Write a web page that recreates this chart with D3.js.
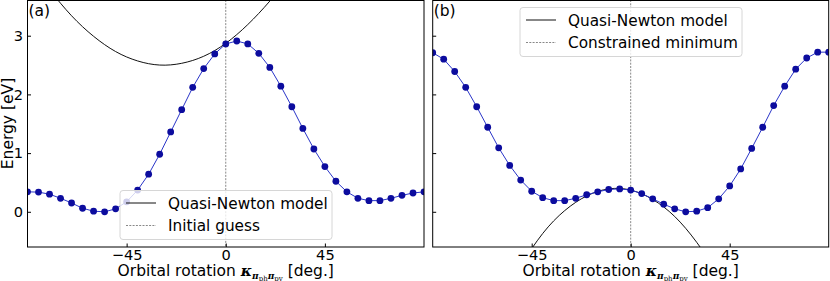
<!DOCTYPE html>
<html lang="en">
<head>
    <meta charset="UTF-8">
    <title>Orbital rotation energy</title>
    <style>
        body { margin: 0; background: #fff; }
        text { font-family: "DejaVu Sans", sans-serif; }
    </style>
</head>
<body>
<script type='text/javascript' src='https://d3js.org/d3.v7.min.js'></script>
<script>
    // angles of the scan, every 5 degrees
    var angles = [-90, -85, -80, -75, -70, -65, -60, -55, -50, -45, -40, -35, -30, -25, -20, -15, -10, -5,
                  0, 5, 10, 15, 20, 25, 30, 35, 40, 45, 50, 55, 60, 65, 70, 75, 80, 85, 90];
    // panel (a) energies
    var energyA = [0.34, 0.335, 0.30, 0.23, 0.15, 0.06, 0.01, 0.0, 0.05, 0.17, 0.37, 0.64, 0.98, 1.36, 1.74, 2.12, 2.44, 2.69,
                   2.86, 2.91, 2.86, 2.70, 2.46, 2.14, 1.79, 1.42, 1.07, 0.77, 0.52, 0.34, 0.23, 0.19, 0.19, 0.23, 0.28, 0.32, 0.34];
    // panel (b) energies
    var energyB = [2.71, 2.60, 2.39, 2.12, 1.79, 1.44, 1.09, 0.79, 0.54, 0.35, 0.24, 0.19, 0.19, 0.23, 0.29, 0.34, 0.38, 0.39,
                   0.37, 0.31, 0.22, 0.13, 0.05, 0.0, 0.01, 0.07, 0.22, 0.44, 0.73, 1.08, 1.44, 1.81, 2.14, 2.43, 2.62, 2.72, 2.72];
    // quasi-Newton model curves
    var modelAngleA = [-80, -70, -60, -50, -40, -30, -20, -10, 0, 10, 20, 30];
    var modelA = [3.78, 3.34, 2.99, 2.73, 2.57, 2.50, 2.53, 2.65, 2.87, 3.19, 3.59, 4.05];
    var modelAngleB = [-50, -40, -30, -20, -10, 0, 10, 20, 30, 40];
    var modelB = [-0.91, -0.37, 0.02, 0.27, 0.39, 0.37, 0.21, -0.08, -0.52, -1.07];
    var xTicks = [-45, 0, 45];
    var yTicks = [0, 1, 2, 3];

    const width = 830;
    const height = 281;
    const tickFont = 14.6;
    const labelFont = 15.5;
    const legendFont = 15.3;

    const svg = d3.select("body")
        .append("svg")
        .attr("width", width)
        .attr("height", height);

    var y = d3.scaleLinear().domain([-0.6, 3.6]).range([247, 0.5]);

    function zip(xs, ys) {
        return xs.map(function(d, i) { return [d, ys[i]]; });
    }

    function drawPanel(opt) {
        var x = d3.scaleLinear().domain([-90, 90]).range([opt.x0, opt.x1]);

        // clip to the axes box
        svg.append("clipPath")
            .attr("id", opt.id)
            .append("rect")
            .attr("x", opt.x0).attr("y", 0.5)
            .attr("width", opt.x1 - opt.x0).attr("height", 247 - 0.5);

        var g = svg.append("g").attr("clip-path", "url(#" + opt.id + ")");

        // vertical reference line at zero
        g.append("line")
            .attr("x1", x(0)).attr("x2", x(0))
            .attr("y1", 0).attr("y2", 247)
            .attr("stroke", "#888")
            .attr("stroke-width", 1)
            .attr("stroke-dasharray", "2,1.3");

        // model curve
        var curve = d3.line()
            .x(function(d) { return x(d[0]); })
            .y(function(d) { return y(d[1]); })
            .curve(d3.curveNatural);
        g.append("path")
            .attr("d", curve(zip(opt.modelX, opt.model)))
            .attr("fill", "none")
            .attr("stroke", "#111")
            .attr("stroke-width", 1);

        // data line + markers
        var pts = zip(angles, opt.energy);
        g.append("path")
            .attr("d", d3.line().x(function(d) { return x(d[0]); }).y(function(d) { return y(d[1]); })(pts))
            .attr("fill", "none")
            .attr("stroke", "#2a35c8")
            .attr("stroke-width", 1);
        g.selectAll("circle")
            .data(pts)
            .enter()
            .append("circle")
            .attr("cx", function(d) { return x(d[0]); })
            .attr("cy", function(d) { return y(d[1]); })
            .attr("r", 3.4)
            .attr("fill", "#0c0c9e");

        // axes: ticks pointing inward
        var xAxis = d3.axisBottom(x).tickValues(xTicks).tickSizeInner(-3.5).tickSizeOuter(0)
            .tickPadding(3)
            .tickFormat(function(d) { return d < 0 ? "\u2212" + Math.abs(d) : d; });
        var ax = svg.append("g").attr("transform", "translate(0,247)").call(xAxis);
        ax.select(".domain").remove();
        ax.selectAll("text").attr("font-size", tickFont).attr("font-family", "DejaVu Sans").attr("fill", "#000");

        var yAxis = d3.axisLeft(y).tickValues(yTicks).tickSizeInner(-3.5).tickSizeOuter(0)
            .tickPadding(opt.labels ? 4.5 : 0)
            .tickFormat(opt.labels ? d3.format("d") : "");
        var ay = svg.append("g").attr("transform", "translate(" + opt.x0 + ",0)").call(yAxis);
        ay.select(".domain").remove();
        ay.selectAll("text").attr("font-size", tickFont).attr("font-family", "DejaVu Sans").attr("fill", "#000");

        // frame
        svg.append("rect")
            .attr("x", opt.x0).attr("y", 0.5)
            .attr("width", opt.x1 - opt.x0).attr("height", 247 - 0.5)
            .attr("fill", "none")
            .attr("stroke", "#000")
            .attr("stroke-width", 1);

        // panel label
        svg.append("text")
            .attr("x", opt.x0 + 1).attr("y", 16)
            .attr("font-size", 15.5)
            .text(opt.tag);

        // x label with math subscript
        var xl = svg.append("text")
            .attr("x", x(0)).attr("y", 276)
            .attr("text-anchor", "middle")
            .attr("font-size", labelFont);
        xl.append("tspan").text("Orbital rotation ");
        xl.append("tspan").text("\u03ba").attr("font-style", "italic").attr("font-weight", "bold")
            .attr("font-family", "DejaVu Serif").attr("font-size", 15);
        xl.append("tspan").text("\u03c0").attr("font-style", "italic").attr("font-weight", "bold")
            .attr("font-family", "DejaVu Serif").attr("font-size", 9).attr("dy", 3);
        xl.append("tspan").text("ph").attr("font-family", "DejaVu Serif").attr("font-size", 7).attr("dy", 1.5);
        xl.append("tspan").text("\u03c0").attr("font-style", "italic").attr("font-weight", "bold")
            .attr("font-family", "DejaVu Serif").attr("font-size", 9).attr("dy", -1.5);
        xl.append("tspan").text("py").attr("font-family", "DejaVu Serif").attr("font-size", 7).attr("dy", 1.5);
        xl.append("tspan").text(" [deg.]").attr("dy", -4.5);

        // legend
        var lg = svg.append("g").attr("transform", "translate(" + opt.legend[0] + "," + opt.legend[1] + ")");
        lg.append("rect")
            .attr("width", opt.legend[2]).attr("height", 49)
            .attr("rx", 3)
            .attr("fill", "#fff").attr("fill-opacity", 0.8)
            .attr("stroke", "#d6d6d6").attr("stroke-width", 1);
        var entries = [
            {label: "Quasi-Newton model", dash: null, color: "#111"},
            {label: opt.dashLabel, dash: "2,1.3", color: "#888"}
        ];
        entries.forEach(function(e, i) {
            var cy = 12.5 + i * 22.5;
            lg.append("line")
                .attr("x1", 6).attr("x2", 36)
                .attr("y1", cy).attr("y2", cy)
                .attr("stroke", e.color)
                .attr("stroke-width", 1)
                .attr("stroke-dasharray", e.dash);
            lg.append("text")
                .attr("x", 48).attr("y", cy + 5.5)
                .attr("font-size", legendFont)
                .text(e.label);
        });
    }

    drawPanel({id: "clipA", x0: 27.5, x1: 424, energy: energyA, modelX: modelAngleA, model: modelA,
               labels: true, tag: "(a)", dashLabel: "Initial guess", legend: [120, 190.5, 212]});
    drawPanel({id: "clipB", x0: 432.7, x1: 828.7, energy: energyB, modelX: modelAngleB, model: modelB,
               labels: false, tag: "(b)", dashLabel: "Constrained minimum", legend: [520, 7.5, 222]});

    // y label
    svg.append("text")
        .attr("transform", "translate(12.5,123.5) rotate(-90)")
        .attr("text-anchor", "middle")
        .attr("font-size", labelFont)
        .text("Energy [eV]");
</script>
</body>
</html>
